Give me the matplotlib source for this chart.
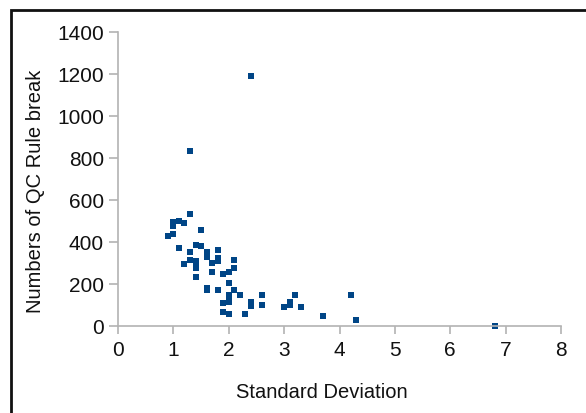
import matplotlib
matplotlib.use("Agg")
import matplotlib.pyplot as plt
from matplotlib.patches import Rectangle

plt.rcParams['font.family'] = ['Liberation Sans', 'DejaVu Sans']

# Data
std_dev = [2.4, 1.3, 1.3, 1.5, 1.0, 1.0, 1.1, 1.2, 0.9, 1.0,
           1.1, 1.4, 1.5, 1.3, 1.6, 1.6, 1.8, 1.3, 1.2, 1.4,
           1.4, 1.4, 1.7, 1.8, 1.8, 2.1, 2.1, 1.4, 1.7, 1.9,
           2.0, 2.0, 1.6, 1.6, 1.8, 2.1, 2.2, 2.0, 2.0, 2.0,
           1.9, 1.9, 2.0, 2.3, 2.4, 2.4, 2.6, 2.6, 3.0, 3.1,
           3.1, 3.2, 3.3, 3.7, 4.2, 4.3, 6.8]
rule_breaks = [1190, 835, 535, 458, 495, 478, 500, 492, 430, 437,
               372, 387, 380, 351, 352, 330, 362, 315, 297, 308,
               290, 274, 302, 324, 311, 315, 278, 232, 259, 249,
               256, 205, 181, 170, 173, 173, 149, 148, 130, 115,
               108, 65, 57, 57, 114, 97, 149, 101, 92, 116,
               99, 149, 89, 49, 149, 29, 0]
x_ticks = [0, 1, 2, 3, 4, 5, 6, 7, 8]
y_ticks = [0, 200, 400, 600, 800, 1000, 1200, 1400]
x_label = "Standard Deviation"
y_label = "Numbers of QC Rule break"

W, H = 586, 414
fig = plt.figure(figsize=(W / 100, H / 100), dpi=100)
ax = fig.add_axes([118 / W, 1 - 327 / H, (561 - 118) / W, (327 - 33) / H])

ax.plot(std_dev, rule_breaks, linestyle='none', marker='s',
        markersize=3.8, color='#004586', markeredgewidth=0, clip_on=False)

ax.set_xlim(0, 8)
ax.set_ylim(0, 1400)
ax.set_xticks(x_ticks)
ax.set_yticks(y_ticks)

grey = '#b3b3b3'
for s in ['top', 'right']:
    ax.spines[s].set_visible(False)
for s in ['left', 'bottom']:
    ax.spines[s].set_color(grey)
    ax.spines[s].set_linewidth(1.2)
ax.tick_params(axis='both', direction='out', color=grey, width=1.2,
               labelsize=15, labelcolor='#111111')
ax.tick_params(axis='y', length=6.5, pad=3.5)
ax.tick_params(axis='x', length=6, pad=4)

ax.set_xlabel(x_label, fontsize=14.5, color='#111111')
ax.xaxis.set_label_coords(0.46, -0.19)
ax.set_ylabel(y_label, fontsize=14.5, color='#111111')
ax.yaxis.set_label_coords(-0.165, 0.46)

# outer frame (left and top visible, extends past right/bottom edges)
frame = Rectangle((11 / W, -0.1), 1.2, 1 - 11 / H + 0.1,
                  transform=fig.transFigure, fill=False,
                  edgecolor='#111111', linewidth=2.0, clip_on=False)
fig.patches.append(frame)

fig.savefig("out.png", dpi=100)
